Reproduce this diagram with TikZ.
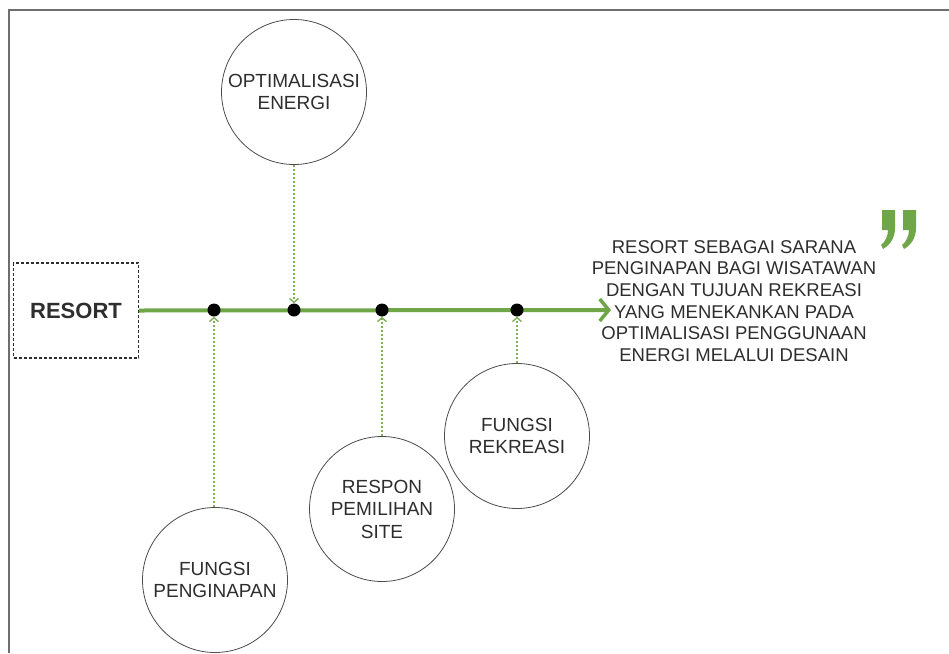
\documentclass[tikz,border=0pt]{standalone}
\usepackage{fontspec}
\setmainfont{Liberation Sans}
\usetikzlibrary{shapes.geometric,arrows.meta}
\definecolor{gmain}{HTML}{6FA647}
\definecolor{gconn}{HTML}{7FB15C}
\definecolor{txt}{HTML}{2E2E2E}
\definecolor{frame}{HTML}{6E6E6E}
\tikzset{
  resortbox/.style={draw=txt, dashed, dash pattern=on 3pt off 2pt, line width=1.4pt,
    minimum width=125pt, minimum height=95pt, inner sep=0pt,
    font=\fontsize{22}{24}\selectfont\bfseries, text=txt},
  bubble/.style={circle, draw=txt!85, line width=0.8pt, minimum size=145pt,
    inner sep=0pt, align=center, text=txt,
    font=\fontsize{19}{22.5}\selectfont},
  dotnode/.style={circle, fill=black, inner sep=0pt, minimum size=13pt},
  mainline/.style={draw=gmain, line width=4pt,
    -{Straight Barb[length=9pt,width=22pt,line width=3.5pt]}},
  conn/.style={draw=gconn, line width=1.7pt, dash pattern=on 2.5pt off 1.5pt,
    -{Straight Barb[length=4pt,width=9pt,line width=1.4pt]}},
  quotetext/.style={align=center, text=txt, font=\fontsize{18.5}{21.6}\selectfont}
}
\begin{document}
\begin{tikzpicture}[x=1pt,y=-1pt]
\useasboundingbox (0,0) rectangle (949,653);
\fill[white] (0,0) rectangle (949,653);
\draw[frame, line width=1.8pt] (9,653) -- (9,10) -- (949,10);

\node[resortbox] (resort) at (76,310.5) {RESORT};
\coordinate (tip) at (611,310);
\draw[mainline] (resort.east) -- (tip);

\node[dotnode] (d1) at (214,310) {};
\node[dotnode] (d2) at (294,310) {};
\node[dotnode] (d3) at (382,310) {};
\node[dotnode] (d4) at (517,310) {};

\node[bubble] (opt) at (294,92) {OPTIMALISASI\\ENERGI};
\node[bubble] (peng) at (215,580) {FUNGSI\\PENGINAPAN};
\node[bubble] (site) at (382,509) {RESPON\\PEMILIHAN\\SITE};
\node[bubble] (rek) at (517,436) {FUNGSI\\REKREASI};

\draw[conn] (opt.south) -- (d2.north);
\draw[conn] (peng.north -| d1) -- (d1.south);
\draw[conn] (site.north) -- (d3.south);
\draw[conn] (rek.north) -- (d4.south);

\node[quotetext] (quote) at (734,301) {RESORT SEBAGAI SARANA\\PENGINAPAN BAGI WISATAWAN\\DENGAN TUJUAN REKREASI\\YANG MENEKANKAN PADA\\OPTIMALISASI PENGGUNAAN\\ENERGI MELALUI DESAIN};

\foreach \x in {882,903}{
  \fill[gmain] (\x,210) -- (\x+13,210) -- (\x+13,228)
    .. controls (\x+13,238) and (\x+8,245) .. (\x+1,249)
    -- (\x-1,245) .. controls (\x+3,242) and (\x+6,236) .. (\x+6,230)
    -- (\x,230) -- cycle;
}
\end{tikzpicture}
\end{document}
